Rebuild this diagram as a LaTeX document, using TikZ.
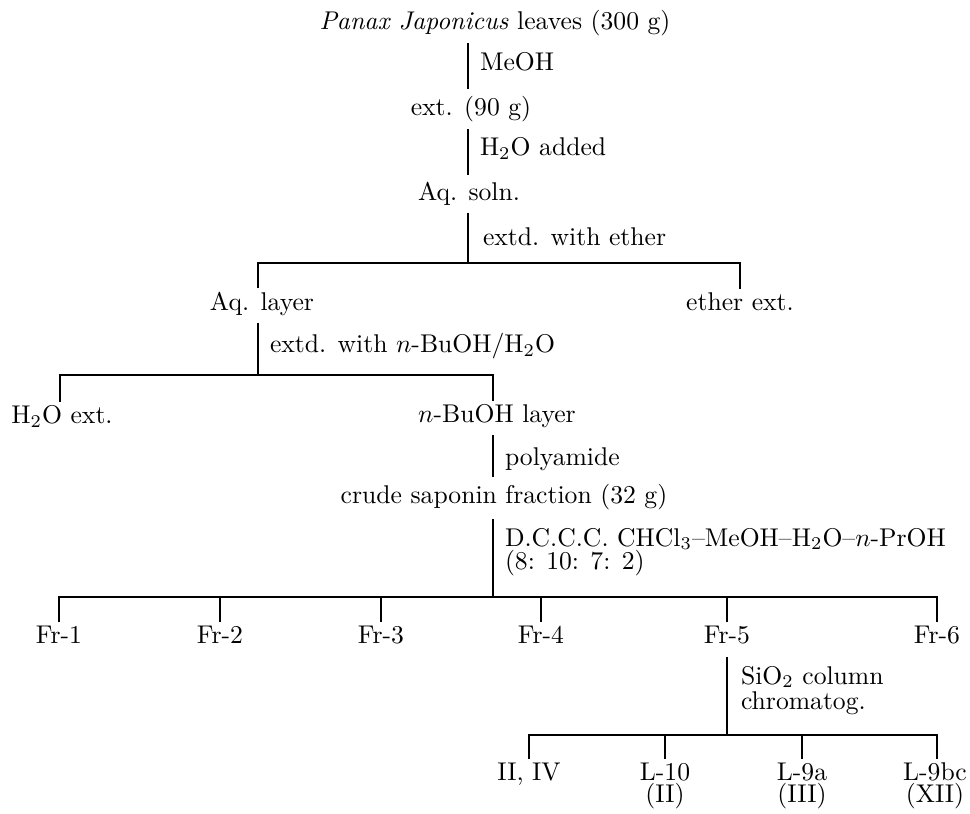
\documentclass[tikz,border=0pt]{standalone}
\begin{document}
\begin{tikzpicture}[x=0.39pt, y=-0.39pt, line width=0.6pt, line join=miter,
  every node/.style={inner sep=0pt, outer sep=0pt, font=\fontsize{10}{12}\selectfont},
  item/.style={anchor=mid},
  note/.style={anchor=mid west},
  trunk/.style={shorten <=2.8pt, shorten >=2.8pt},
  fork/.style={shorten <=1.5pt, shorten >=1.5pt},
  drop/.style={shorten >=1.5pt}]
\useasboundingbox (0,0) rectangle (970,814);

% ---- substances ----
\node[item] (leaves)  at (495,24)  {\textit{Panax Japonicus} leaves (300 g)};
\node[item] (ext)     at (471,110) {ext. (90 g)};
\node[item] (aqsoln)  at (469,195) {Aq. soln.};
\node[item] (aqlayer) at (262,305) {Aq. layer};
\node[item] (ether)   at (740,305) {ether ext.};
\node[item] (h2oext)  at (62,418)  {H$_2$O ext.};
\node[item] (buoh)    at (497,417) {$n$-BuOH layer};
\node[item] (crude)   at (504,498) {crude saponin fraction (32 g)};

\node[item] (fr1) at (59,638)  {Fr-1};
\node[item] (fr2) at (220,638) {Fr-2};
\node[item] (fr3) at (381,638) {Fr-3};
\node[item] (fr4) at (541,638) {Fr-4};
\node[item] (fr5) at (727,638) {Fr-5};
\node[item] (fr6) at (937,638) {Fr-6};

\node[item] (c1) at (529,775) {II, IV};
\node[anchor=north, align=center] (c2) at (665,763) {L-10\\[-3.4pt](II)};
\node[anchor=north, align=center] (c3) at (802,763) {L-9a\\[-3.4pt](III)};
\node[anchor=north, align=center] (c4) at (935,763) {L-9bc\\[-3.4pt](XII)};

% ---- operations ----
\node[note] (meoh)   at (480,65)  {MeOH};
\node[note] (h2oadd) at (480,150) {H$_2$O added};
\node[note] (ethx)   at (483,240) {extd. with ether};
\node[note] (buohx)  at (270,347) {extd. with $n$-BuOH/H$_2$O};
\node[note] (poly)   at (505,460) {polyamide};
\node[anchor=north west, align=left] (dccc) at (505,528)
  {D.C.C.C. CHCl$_3$--MeOH--H$_2$O--$n$-PrOH\\[-2.8pt](8: 10: 7: 2)};
\node[anchor=north west, align=left] (sio2) at (741,666)
  {SiO$_2$ column\\[-2.2pt]chromatog.};

% ---- junction points ----
\coordinate (s0)  at (468,0);
\coordinate (j1)  at (468,263);
\coordinate (b1l) at (258,263);
\coordinate (b1r) at (740,263);
\coordinate (j2)  at (258,375);
\coordinate (b2l) at (60,375);
\coordinate (b2r) at (493,375);
\coordinate (j3)  at (493,597);
\coordinate (b3a) at (59,597);
\coordinate (b3b) at (220,597);
\coordinate (b3c) at (381,597);
\coordinate (b3d) at (541,597);
\coordinate (b3e) at (727,597);
\coordinate (b3f) at (937,597);
\coordinate (j4)  at (727,735);
\coordinate (b4a) at (529,735);
\coordinate (b4b) at (665,735);
\coordinate (b4c) at (802,735);
\coordinate (b4d) at (937,735);

% ---- connectors ----
\draw[trunk] (leaves.south -| s0) -- (ext.north -| s0);
\draw[trunk] (ext.south -| s0) -- (aqsoln.north -| s0);
\draw[shorten <=2.8pt] (aqsoln.south -| j1) -- (j1);
\draw[fork] (aqlayer.north -| b1l) -- (b1l) -- (b1r) -- (ether.north -| b1r);

\draw[shorten <=2.8pt] (aqlayer.south -| j2) -- (j2);
\draw[fork] (h2oext.north -| b2l) -- (b2l) -- (b2r) -- (buoh.north -| b2r);

\draw[trunk] (buoh.south -| j3) -- (crude.north -| j3);
\draw[shorten <=3.6pt] (crude.south -| j3) -- (j3);
\draw[fork] (fr1.north -| b3a) -- (b3a) -- (b3f) -- (fr6.north -| b3f);
\draw[drop] (b3b) -- (fr2.north -| b3b);
\draw[drop] (b3c) -- (fr3.north -| b3c);
\draw[drop] (b3d) -- (fr4.north -| b3d);
\draw[drop] (b3e) -- (fr5.north -| b3e);

\draw[shorten <=5pt] (fr5.south -| j4) -- (j4);
\draw[fork] (c1.north -| b4a) -- (b4a) -- (b4d) -- (c4.north -| b4d);
\draw[drop] (b4b) -- (c2.north -| b4b);
\draw[drop] (b4c) -- (c3.north -| b4c);
\end{tikzpicture}
\end{document}
